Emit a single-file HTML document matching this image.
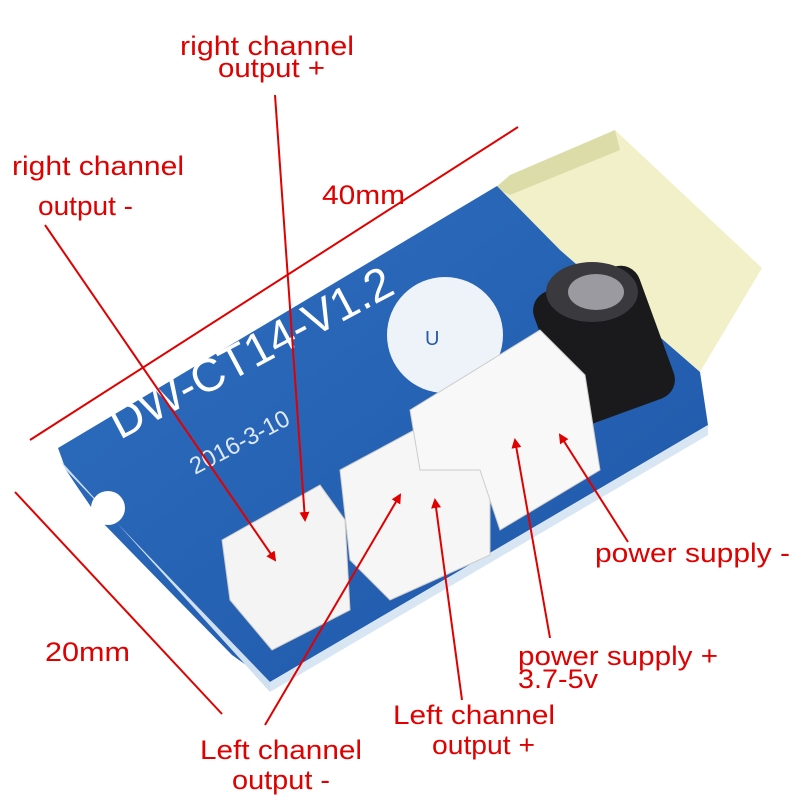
<!DOCTYPE html>
<html><head><meta charset="utf-8"><style>
html,body{margin:0;padding:0;background:#fff;}
svg{display:block}
text{font-family:"Liberation Sans",sans-serif;}
</style></head><body>
<svg width="800" height="800" viewBox="0 0 800 800" xmlns="http://www.w3.org/2000/svg">
<defs>
<marker id="a" markerWidth="10" markerHeight="10" refX="8" refY="5" orient="auto" markerUnits="userSpaceOnUse">
<path d="M0,0 L10,5 L0,10 z" fill="#e00000"/></marker>
<linearGradient id="b" x1="0" y1="0" x2="1" y2="1"><stop offset="0" stop-color="#2f6fc0"/><stop offset="1" stop-color="#1e56a8"/></linearGradient>
</defs>
<polygon points="495,188 615,130 762,268 700,372 560,250" fill="#f1f0c8"/>
<polygon points="495,188 510,175 615,130 620,150 510,195" fill="#dcdca8"/>
<polygon points="58,448 497,186 560,250 700,372 708,425 270,682 232,655 178,600 100,520 78,488 66,470" fill="url(#b)"/>
<polygon points="66,470 270,682 270,692 60,460" fill="#cfe0f0"/>
<polygon points="270,682 708,425 708,435 270,692" fill="#d8e6f4"/>
<circle cx="108" cy="508" r="17" fill="#fff"/>
<text x="120" y="440" fill="#fff" font-size="46" font-family="Liberation Serif,serif" transform="rotate(-28 120 440)">DW-CT14-V1.2</text>
<text x="195" y="475" fill="#dfe8f5" font-size="24" transform="rotate(-28 195 475)">2016-3-10</text>
<circle cx="445" cy="335" r="58" fill="#eef3fa"/>
<text x="425" y="345" fill="#2a5aa8" font-size="20">U</text>
<rect x="548" y="275" width="112" height="140" rx="20" fill="#1a1a1c" transform="rotate(-20 604 345)"/>
<ellipse cx="592" cy="292" rx="46" ry="30" fill="#3a3a3e"/>
<ellipse cx="596" cy="292" rx="28" ry="18" fill="#9a9aa0"/>
<polygon points="222,540 320,485 345,520 350,610 272,650 230,600" fill="#f4f4f4" stroke="#ccc"/>
<polygon points="340,470 470,400 490,445 490,555 390,600 350,560" fill="#f6f6f6" stroke="#ccc"/>
<polygon points="410,410 540,330 585,375 600,470 500,530 480,470 420,470" fill="#f8f8f8" stroke="#ccc"/>
<g stroke="#e00000" stroke-width="2" fill="none">
<line x1="45" y1="225" x2="275" y2="560" marker-end="url(#a)"/>
<line x1="275" y1="95" x2="305" y2="520" marker-end="url(#a)"/>
<line x1="30" y1="440" x2="518" y2="127"/>
<line x1="15" y1="492" x2="222" y2="714"/>
<line x1="265" y1="725" x2="400" y2="495" marker-end="url(#a)"/>
<line x1="462" y1="700" x2="435" y2="500" marker-end="url(#a)"/>
<line x1="550" y1="638" x2="515" y2="440" marker-end="url(#a)"/>
<line x1="628" y1="542" x2="560" y2="435" marker-end="url(#a)"/>
</g>
<g fill="#e00000" font-size="27">
<text x="180" y="55" textLength="174" lengthAdjust="spacingAndGlyphs">right channel</text>
<text x="218" y="77" textLength="107" lengthAdjust="spacingAndGlyphs">output +</text>
<text x="12" y="175" textLength="172" lengthAdjust="spacingAndGlyphs">right channel</text>
<text x="38" y="215" textLength="95" lengthAdjust="spacingAndGlyphs">output -</text>
<text x="322" y="204" textLength="83" lengthAdjust="spacingAndGlyphs">40mm</text>
<text x="45" y="661" textLength="85" lengthAdjust="spacingAndGlyphs">20mm</text>
<text x="595" y="562" textLength="195" lengthAdjust="spacingAndGlyphs">power supply -</text>
<text x="518" y="665" textLength="200" lengthAdjust="spacingAndGlyphs">power supply +</text>
<text x="518" y="688" textLength="80" lengthAdjust="spacingAndGlyphs">3.7-5v</text>
<text x="393" y="724" textLength="162" lengthAdjust="spacingAndGlyphs">Left channel</text>
<text x="432" y="754" textLength="103" lengthAdjust="spacingAndGlyphs">output +</text>
<text x="200" y="759" textLength="162" lengthAdjust="spacingAndGlyphs">Left channel</text>
<text x="232" y="789" textLength="98" lengthAdjust="spacingAndGlyphs">output -</text>
</g>
</svg>
</body></html>
